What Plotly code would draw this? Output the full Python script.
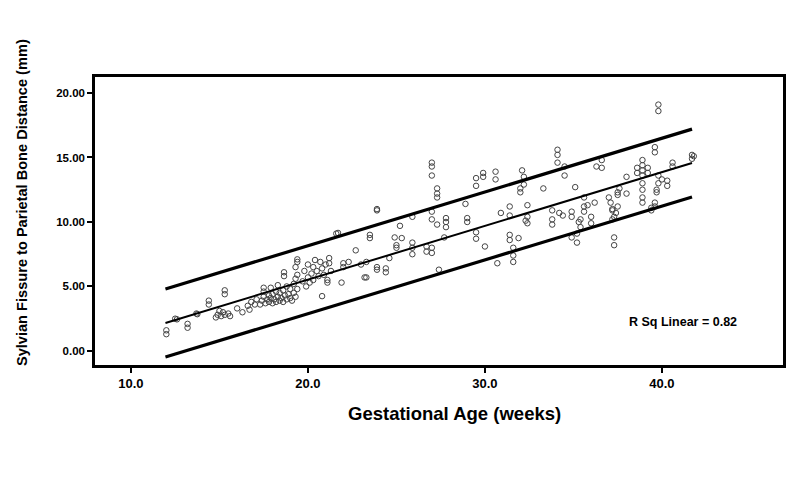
import plotly.graph_objects as go

# gestational age (weeks) and sylvian fissure - parietal bone distance (mm)
ga = [12.0, 12.0, 12.5, 12.6, 13.2, 13.2, 13.7, 13.75, 14.4, 14.4, 15.3, 15.3,
      14.8, 14.9, 15.0, 15.1, 15.2, 15.3, 15.5, 15.6, 16.0, 16.3, 16.6, 16.7,
      16.8, 17.0, 17.1, 17.5, 17.5,
      17.3, 17.4, 17.5, 17.6, 17.7, 17.8, 17.8, 17.9, 18.0, 18.0, 18.1, 18.2,
      18.2, 18.3, 18.4, 18.4, 18.5, 18.6, 18.6, 18.7, 18.8, 18.8, 18.9, 19.0,
      19.0, 19.1, 19.2, 19.2, 19.3, 19.4, 17.9, 18.3,
      18.65, 18.65, 19.3, 19.4, 19.4, 19.4, 19.3,
      19.7, 19.8, 19.9, 20.0, 20.0, 20.1, 20.2, 20.3, 20.3, 20.4, 20.5, 20.6,
      20.7, 20.8, 20.8, 20.9, 21.0, 21.1, 21.1, 21.2, 21.2, 21.3,
      21.6, 21.7, 21.9, 22.0, 22.0, 22.3, 22.7, 23.0, 23.2, 23.3, 23.3,
      23.5, 23.5, 23.9, 23.9, 23.9, 23.9, 24.4, 24.4, 24.6, 24.9, 25.0, 25.0,
      25.3, 25.2, 25.9, 25.9, 25.9, 25.9, 26.7, 26.7, 27.0, 27.0,
      27.0, 27.0, 27.0, 27.3, 27.3, 27.3, 27.0, 27.0, 27.3, 27.4, 27.8, 27.8,
      27.8, 27.7,
      28.9, 29.0, 29.0, 29.5, 29.5, 29.9, 29.9, 29.5, 29.5, 30.0,
      30.6, 30.6, 30.9, 30.7, 31.4, 31.4, 31.4, 31.4, 31.6, 31.6, 31.9, 31.6,
      32.1, 32.2, 32.2, 32.0, 32.0, 32.4, 32.4, 32.4, 32.3, 33.3,
      34.1, 34.1, 34.1, 34.5, 34.5, 33.8, 33.8, 33.8, 34.2, 34.4, 34.9, 34.9,
      35.1, 35.2, 35.2, 34.9, 35.3,
      35.6, 35.6, 35.6, 35.4, 35.4, 36.0, 36.0, 36.2, 35.8,
      36.3, 36.6, 36.6, 37.5, 37.5, 37.6, 37.0, 37.1, 37.2, 37.3, 37.2, 37.2,
      37.4, 37.5, 37.3, 37.3,
      38.0, 38.0, 38.6, 38.6, 38.9, 38.9, 38.9, 38.9, 38.9, 38.9, 38.9, 38.9,
      39.2, 39.2,
      39.4, 39.4, 39.6, 39.6, 39.6, 39.6, 39.7, 39.7, 39.8, 39.8, 39.8, 39.8,
      40.0, 40.3, 40.3, 40.6, 40.6, 41.7, 41.7, 41.8]
dist = [1.3, 1.6, 2.5, 2.45, 1.8, 2.1, 2.9, 2.85, 3.6, 3.9, 4.4, 4.7,
        2.6, 2.8, 3.1, 2.7, 3.0, 2.8, 2.9, 2.7, 3.3, 3.0, 3.5, 3.2,
        3.8, 3.6, 4.0, 4.9, 4.6,
        3.6, 3.9, 4.2, 3.7, 4.0, 3.8, 4.3, 4.1, 3.7, 4.4, 4.0, 3.8,
        4.6, 4.2, 3.9, 4.5, 4.1, 3.8, 4.7, 4.3, 4.0, 5.0, 4.4, 4.1,
        4.8, 3.9, 4.5, 5.2, 4.2, 4.8, 4.9, 5.1,
        6.1, 5.8, 5.6, 5.9, 7.1, 6.9, 6.5,
        5.4, 6.2, 5.0, 5.7, 6.7, 5.3, 6.0, 6.5, 5.5, 7.05, 6.2, 5.8,
        6.9, 4.25, 6.4, 5.9, 6.7, 5.5, 5.3, 7.2, 6.8, 6.2,
        9.1, 9.15, 5.3, 6.5, 6.8, 6.9, 7.8, 6.7, 5.7, 6.9, 5.7,
        9.0, 8.75, 10.9, 11.0, 6.5, 6.3, 6.4, 6.1, 7.2, 8.8, 8.2, 8.0,
        8.75, 9.7, 10.4, 8.4, 8.0, 7.5, 8.1, 7.7, 8.0, 7.6,
        14.6, 14.3, 13.6, 12.6, 12.2, 11.9, 10.8, 10.2, 9.8, 6.3, 10.3, 10.0,
        9.6, 8.8,
        11.4, 10.3, 10.0, 13.4, 12.8, 13.8, 13.5, 9.2, 8.7, 8.1,
        13.9, 13.3, 10.7, 6.8, 11.2, 10.5, 9.0, 8.6, 8.0, 7.4, 8.75, 6.9,
        14.0, 13.5, 12.9, 12.6, 12.3, 11.3, 10.4, 9.9, 10.1, 12.6,
        15.6, 15.2, 14.6, 14.3, 13.6, 10.9, 10.2, 9.8, 10.7, 10.5, 10.8, 10.4,
        12.7, 9.1, 8.4, 8.8, 10.0,
        11.9, 11.2, 10.8, 10.2, 9.6, 10.4, 9.9, 11.5, 11.3,
        14.3, 14.8, 14.2, 12.1, 12.3, 12.6, 11.9, 11.5, 11.0, 10.4, 10.9, 10.2,
        10.7, 11.2, 8.8, 8.2,
        13.5, 12.2, 14.2, 13.8, 14.8, 14.4, 14.0, 13.6, 13.0, 12.5, 11.9, 11.5,
        14.2, 13.8,
        11.1, 10.9, 15.8, 15.4, 11.5, 11.2, 12.5, 12.3, 19.1, 18.6, 13.6, 13.0,
        13.3, 13.2, 12.8, 14.6, 14.3, 15.2, 14.9, 15.1]

# fit line and 95% prediction band, end points
fit_x = [11.95, 41.7]
fit_mid = [2.17, 14.57]
fit_upper = [4.8, 17.2]
fit_lower = [-0.47, 11.94]

font_family = "Liberation Sans, Arial, sans-serif"

fig = go.Figure()

fig.add_trace(go.Scatter(
    x=ga, y=dist, mode="markers",
    marker=dict(symbol="circle-open", size=5.5, color="#444444",
                line=dict(width=1, color="#444444")),
    showlegend=False))

for ys, w in [(fit_upper, 3.2), (fit_mid, 2), (fit_lower, 3.2)]:
    fig.add_trace(go.Scatter(x=fit_x, y=ys, mode="lines",
                             line=dict(color="black", width=w), showlegend=False))

fig.add_annotation(x=41.2, y=2.25, text="R Sq Linear = 0.82", showarrow=False,
                   font=dict(size=12.5, color="black", family=font_family, weight="bold"))

# axis titles as annotations so they can sit where the original has them
fig.add_annotation(x=0.523, y=-0.17, xref="paper", yref="paper",
                   text="Gestational Age (weeks)", showarrow=False, yanchor="middle",
                   font=dict(size=18.5, color="black", family=font_family, weight="bold"))
fig.add_annotation(x=-0.106, y=0.5625, xref="paper", yref="paper", textangle=-90,
                   text="Sylvian Fissure to Parietal Bone Distance (mm)", showarrow=False,
                   xanchor="center", yanchor="middle",
                   font=dict(size=14.6, color="black", family=font_family, weight="bold"))

axis_common = dict(showline=True, linecolor="black", linewidth=2.5, mirror=True,
                   showgrid=False, zeroline=False, ticks="outside", ticklen=5,
                   tickwidth=2, tickcolor="black")

fig.update_xaxes(range=[7.97, 46.84], tickvals=[10, 20, 30, 40],
                 ticktext=["10.0", "20.0", "30.0", "40.0"],
                 tickfont=dict(size=13, color="black", family=font_family, weight="bold"),
                 **axis_common)
fig.update_yaxes(range=[-1.09, 21.24], tickvals=[0, 5, 10, 15, 20],
                 ticktext=["0.00", "5.00", "10.00", "15.00", "20.00"],
                 tickfont=dict(size=11.5, color="black", family=font_family, weight="bold"),
                 **axis_common)

# page body has an 8px margin, so margins are offset to land the frame where the original is
fig.update_layout(width=800, height=477,
                  margin=dict(l=87, r=25, t=69, b=120),
                  plot_bgcolor="white", paper_bgcolor="white",
                  font=dict(family=font_family, color="black"))

fig.write_html("out.html")
